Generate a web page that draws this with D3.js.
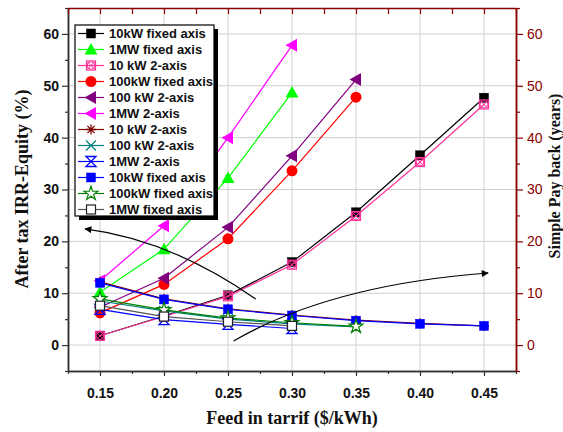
<!DOCTYPE html>
<html>
<head>
<meta charset="utf-8">
<script src="https://cdn.jsdelivr.net/npm/d3@7"></script>
<style>
  body { margin: 0; background: #fff; }
  svg { display: block; }
</style>
</head>
<body>
<svg id="chart"></svg>
<script>
// feed-in tariff ($/kWh) — x values shared by every series
const feedInTariff = [0.15, 0.20, 0.25, 0.30, 0.35, 0.40, 0.45];

// After tax IRR-Equity (%)
const irr10kWFixed   = [1.8, 5.6, 9.6, 16.0, 25.6, 36.6, 47.7];
const irr1MWFixed    = [10.2, 18.5, 32.2, 48.7];
const irr10kW2Axis   = [1.8, 5.5, 9.4, 15.5, 24.9, 35.3, 46.4];
const irr100kWFixed  = [6.2, 11.7, 20.5, 33.6, 47.8];
const irr100kW2Axis  = [7.3, 12.9, 22.7, 36.5, 51.2];
const irr1MW2Axis    = [12.4, 23.0, 40.0, 57.8];

// Simple pay back (years)
const pb10kW2Axis    = [12.2, 8.9, 7.0, 5.8, 4.8, 4.2, 3.7];
const pb100kW2Axis   = [8.5, 6.6, 5.0, 4.1, 3.5];
const pb1MW2Axis     = [6.9, 4.9, 4.0, 3.2];
const pb10kWFixed    = [12.0, 8.8, 6.9, 5.7, 4.7, 4.1, 3.7];
const pb100kWFixed   = [8.9, 6.8, 5.2, 4.3, 3.6];
const pb1MWFixed     = [7.6, 5.5, 4.5, 3.7];

const seriesNames = [
    "10kW fixed axis", "1MW fixed axis", "10 kW 2-axis", "100kW fixed axis",
    "100 kW 2-axis", "1MW 2-axis", "10 kW 2-axis", "100 kW 2-axis",
    "1MW 2-axis", "10kW fixed axis", "100kW fixed axis", "1MW fixed axis"
];
const seriesValues = [
    irr10kWFixed, irr1MWFixed, irr10kW2Axis, irr100kWFixed, irr100kW2Axis, irr1MW2Axis,
    pb10kW2Axis, pb100kW2Axis, pb1MW2Axis, pb10kWFixed, pb100kWFixed, pb1MWFixed
];

const xTicks = [0.15, 0.20, 0.25, 0.30, 0.35, 0.40, 0.45];
const xMinor = [0.125, 0.175, 0.225, 0.275, 0.325, 0.375, 0.425, 0.475];
const yTicks = [0, 10, 20, 30, 40, 50, 60];
const yMinor = [-5, 5, 15, 25, 35, 45, 55, 65];

// annotation arrows, in data units: start, control, end (head at end)
const arrowIRR     = [[0.2716, 8.9], [0.2053, 20.3], [0.1383, 22.4]];
const arrowPayback = [[0.2544, 0.8], [0.330, 11.6], [0.4532, 13.9]];

// ── styles ──
const STY = [
    { c: "#000000", m: "square" },
    { c: "#00ff00", m: "triUp" },
    { c: "#ff3399", m: "crossSquare" },
    { c: "#ff0000", m: "circle" },
    { c: "#800080", m: "triLeft" },
    { c: "#ff00ff", m: "triLeft" },
    { c: "#800000", m: "asterisk" },
    { c: "#008080", m: "x" },
    { c: "#0000ff", m: "bowtie" },
    { c: "#0000ff", m: "square" },
    { c: "#008000", m: "star" },
    { c: "#555555", m: "openSquare" }
];
const RED = "#8b0000", AX = "#333";

const W = 563, H = 432;
const margin = { top: 8, right: 47, bottom: 61, left: 68 };
const svg = d3.select("#chart").attr("width", W).attr("height", H);
const g = svg.append("g").attr("transform", `translate(${margin.left},${margin.top})`);
const iw = W - margin.left - margin.right, ih = H - margin.top - margin.bottom;

const x = d3.scaleLinear().domain([0.125, 0.475]).range([0, iw]);
const y = d3.scaleLinear().domain([-5, 65]).range([ih, 0]);

// grid
g.append("g").selectAll("line").data(xTicks).join("line")
    .attr("x1", d => x(d)).attr("x2", d => x(d)).attr("y1", 0).attr("y2", ih)
    .attr("stroke", "#cfcfcf").attr("stroke-width", 1);
g.append("g").selectAll("line").data(yTicks).join("line")
    .attr("x1", 0).attr("x2", iw).attr("y1", d => y(d)).attr("y2", d => y(d))
    .attr("stroke", "#cfcfcf").attr("stroke-width", 1);

function styleAxis(sel, color) {
    sel.selectAll(".domain").attr("stroke", color).attr("stroke-width", 1.5);
    sel.selectAll("line").attr("stroke", color).attr("stroke-width", 1.2);
}

// bottom
const bx = g.append("g").attr("transform", `translate(0,${ih})`)
    .call(d3.axisBottom(x).tickValues(xTicks).tickFormat(d3.format(".2f")).tickSize(5).tickSizeOuter(0).tickPadding(12));
bx.selectAll("text").attr("font-family", "Liberation Sans, Arial, sans-serif")
    .attr("font-weight", "bold").attr("font-size", "14px").attr("fill", "#111");
styleAxis(bx, AX);
styleAxis(g.append("g").attr("transform", `translate(0,${ih})`)
    .call(d3.axisBottom(x).tickValues(xMinor).tickFormat("").tickSize(3).tickSizeOuter(0)), AX);

// left
const ly = g.append("g")
    .call(d3.axisLeft(y).tickValues(yTicks).tickSize(6).tickSizeOuter(0).tickPadding(3));
ly.selectAll("text").attr("font-family", "Liberation Sans, Arial, sans-serif")
    .attr("font-weight", "bold").attr("font-size", "14px").attr("fill", "#111");
styleAxis(ly, AX);
styleAxis(g.append("g").call(d3.axisLeft(y).tickValues(yMinor).tickFormat("").tickSize(3).tickSizeOuter(0)), AX);

// top (inward ticks)
styleAxis(g.append("g").call(d3.axisBottom(x).tickValues(xTicks.concat(xMinor)).tickFormat("").tickSize(6).tickSizeOuter(0)), RED);

// right
const ry = g.append("g").attr("transform", `translate(${iw},0)`)
    .call(d3.axisRight(y).tickValues(yTicks).tickSize(7).tickSizeOuter(0).tickPadding(4));
ry.selectAll("text").attr("font-family", "Liberation Sans, Arial, sans-serif")
    .attr("font-size", "14px").attr("fill", RED);
styleAxis(ry, RED);
styleAxis(g.append("g").attr("transform", `translate(${iw},0)`)
    .call(d3.axisRight(y).tickValues(yMinor).tickFormat("").tickSize(4).tickSizeOuter(0)), RED);

// titles
const serif = "Liberation Serif, Times New Roman, serif";
svg.append("text").attr("transform", `translate(28,189) rotate(-90)`)
    .attr("text-anchor", "middle").attr("font-family", serif).attr("font-weight", "bold")
    .attr("font-size", "18px").attr("fill", "#111").text("After tax IRR-Equity (%)");
svg.append("text").attr("transform", `translate(560,176) rotate(-90)`)
    .attr("text-anchor", "middle").attr("font-family", serif).attr("font-weight", "bold")
    .attr("font-size", "16px").attr("fill", "#111").text("Simple Pay back (years)");
svg.append("text").attr("x", margin.left + iw / 2).attr("y", 424)
    .attr("text-anchor", "middle").attr("font-family", serif).attr("font-weight", "bold")
    .attr("font-size", "18px").attr("fill", "#111").text("Feed in tarrif ($/kWh)");

// ─── markers ───
function marker(parent, type, c, cx, cy) {
    const m = parent.append("g").attr("transform", `translate(${cx},${cy})`);
    switch (type) {
        case "square":
            m.append("rect").attr("x", -4.5).attr("y", -4.5).attr("width", 9).attr("height", 9)
                .attr("fill", c).attr("stroke", c).attr("stroke-width", 0.5);
            break;
        case "openSquare":
            m.append("rect").attr("x", -4.5).attr("y", -4.5).attr("width", 9).attr("height", 9)
                .attr("fill", "#fff").attr("stroke", "#222").attr("stroke-width", 1.2);
            break;
        case "triUp":
            m.append("path").attr("d", "M0,-6.5L6.5,5L-6.5,5Z").attr("fill", c);
            break;
        case "triLeft":
            m.append("path").attr("d", "M-6.5,0L5,-6.5L5,6.5Z").attr("fill", c);
            break;
        case "circle":
            m.append("circle").attr("r", 5.5).attr("fill", c);
            break;
        case "crossSquare":
            m.append("rect").attr("x", -4.5).attr("y", -4.5).attr("width", 9).attr("height", 9)
                .attr("fill", "none").attr("stroke", c).attr("stroke-width", 1.2);
            m.append("circle").attr("r", 3.8).attr("fill", "none").attr("stroke", c).attr("stroke-width", 1);
            m.append("path").attr("d", "M-4,-4L4,4M4,-4L-4,4").attr("stroke", c).attr("stroke-width", 1);
            break;
        case "asterisk":
            m.append("path").attr("d", "M0,-5V5M-5,0H5M-3.6,-3.6L3.6,3.6M3.6,-3.6L-3.6,3.6")
                .attr("stroke", c).attr("stroke-width", 1.3);
            break;
        case "x":
            m.append("path").attr("d", "M-5,-5L5,5M5,-5L-5,5").attr("stroke", c).attr("stroke-width", 1.2);
            break;
        case "bowtie":
            m.append("path").attr("d", "M-5,-5L5,-5L-5,5L5,5Z").attr("fill", "none")
                .attr("stroke", c).attr("stroke-width", 1.3);
            break;
        case "star":
            m.append("path").attr("d", d3.symbol(d3.symbolStar, 60)())
                .attr("fill", "#fff").attr("stroke", c).attr("stroke-width", 1.2);
            break;
    }
}

// ─── series ───
const line = d3.line().x((d, i) => x(feedInTariff[i])).y(d => y(d));
const dataG = g.append("g");
seriesValues.forEach((vals, si) => {
    const s = STY[si];
    const sg = dataG.append("g");
    sg.append("path").datum(vals).attr("d", line)
        .attr("fill", "none").attr("stroke", s.c).attr("stroke-width", 1.2);
    vals.forEach((v, i) => marker(sg, s.m, s.c, x(feedInTariff[i]), y(v)));
});

// ─── arrows ───
svg.append("defs").append("marker").attr("id", "ah")
    .attr("viewBox", "0 0 10 10").attr("refX", 9).attr("refY", 5)
    .attr("markerWidth", 9).attr("markerHeight", 7).attr("markerUnits", "userSpaceOnUse")
    .attr("orient", "auto")
    .append("path").attr("d", "M0,0L10,5L0,10Z").attr("fill", "#000");
[arrowIRR, arrowPayback].forEach(a => {
    const p = a.map(d => [x(d[0]), y(d[1])]);
    g.append("path")
        .attr("d", `M${p[0][0]},${p[0][1]}Q${p[1][0]},${p[1][1]} ${p[2][0]},${p[2][1]}`)
        .attr("fill", "none").attr("stroke", "#000").attr("stroke-width", 1.2)
        .attr("marker-end", "url(#ah)");
});

// ─── legend ───
const lg = svg.append("g").attr("transform", "translate(75,25)");
const lgW = 139, lgH = 191;
lg.append("rect").attr("x", 4).attr("y", 4).attr("width", lgW).attr("height", lgH).attr("fill", "#000");
lg.append("rect").attr("x", 0).attr("y", 0).attr("width", lgW).attr("height", lgH)
    .attr("fill", "#fff").attr("stroke", "#000").attr("stroke-width", 1.2);
seriesNames.forEach((name, i) => {
    const s = STY[i];
    const ry0 = 8.5 + i * 16;
    lg.append("line").attr("x1", 3).attr("x2", 29).attr("y1", ry0).attr("y2", ry0)
        .attr("stroke", s.c).attr("stroke-width", 1.2);
    marker(lg, s.m, s.c, 16, ry0);
    lg.append("text").attr("x", 34).attr("y", ry0 + 4.5)
        .attr("font-family", "Liberation Sans, Arial, sans-serif").attr("font-weight", "bold")
        .attr("font-size", "13px").attr("fill", "#111").text(name);
});
</script>
</body>
</html>
